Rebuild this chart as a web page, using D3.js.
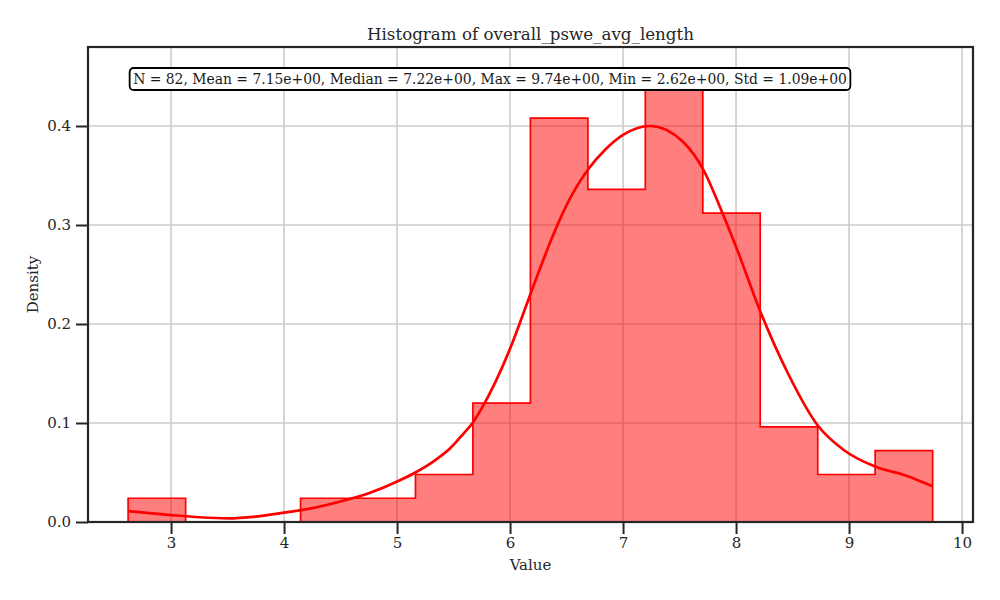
<!DOCTYPE html>
<html>
<head>
<meta charset="utf-8">
<script src="https://cdn.jsdelivr.net/npm/d3@7"></script>
<style>
  body { margin: 0; background: #fff; }
  svg text { font-family: "DejaVu Serif", serif; fill: #262626; }
</style>
</head>
<body>
<svg id="chart" width="1000" height="600"></svg>
<script>
"use strict";

// bin edges and density heights
const binEdges = [2.62, 3.129, 3.637, 4.146, 4.654, 5.163, 5.671, 6.18, 6.689, 7.197, 7.706, 8.214, 8.723, 9.231, 9.74];
const densities = [0.024, 0, 0, 0.024, 0.024, 0.048, 0.12, 0.408, 0.336, 0.456, 0.312, 0.096, 0.048, 0.072];

// kde curve
const kdeX = [2.62, 3.0, 3.25, 3.5, 3.75, 4.0, 4.25, 4.44, 4.75, 5.03, 5.17, 5.32, 5.47, 5.59, 5.67, 5.75, 6.0, 6.18, 6.35, 6.5, 6.69, 6.85, 7.0, 7.24, 7.53, 7.71, 7.88, 8.01, 8.21, 8.46, 8.72, 8.95, 9.23, 9.5, 9.74];
const kdeY = [0.011, 0.007, 0.0048, 0.0037, 0.0055, 0.0094, 0.014, 0.019, 0.029, 0.0424, 0.0505, 0.061, 0.0744, 0.0896, 0.1003, 0.115, 0.175, 0.23, 0.281, 0.32, 0.356, 0.377, 0.391, 0.4, 0.384, 0.356, 0.312, 0.275, 0.214, 0.15, 0.098, 0.073, 0.056, 0.047, 0.036];

const xTicks = [3, 4, 5, 6, 7, 8, 9, 10];
const yTicks = [0.0, 0.1, 0.2, 0.3, 0.4];

const titleText = "Histogram of overall_pswe_avg_length";
const statsText = "N = 82, Mean = 7.15e+00, Median = 7.22e+00, Max = 9.74e+00, Min = 2.62e+00, Std = 1.09e+00";

const margin = {left: 88, right: 27, top: 47, bottom: 78};
const width = 1000, height = 600;

const svg = d3.select("#chart");

const x = d3.scaleLinear().domain([2.265, 10.097]).range([margin.left, width - margin.right]);
const y = d3.scaleLinear().domain([0, 0.4798]).range([height - margin.bottom, margin.top]);

svg.append("clipPath").attr("id", "plotclip")
  .append("rect")
  .attr("x", margin.left).attr("y", margin.top)
  .attr("width", width - margin.left - margin.right)
  .attr("height", height - margin.top - margin.bottom);

// grid
const grid = svg.append("g");
grid.selectAll("line.gx").data(xTicks).join("line")
  .attr("x1", d => x(d)).attr("x2", d => x(d))
  .attr("y1", margin.top).attr("y2", height - margin.bottom)
  .style("stroke", "#cccccc").style("stroke-width", 1.6);
grid.selectAll("line.gy").data(yTicks).join("line")
  .attr("x1", margin.left).attr("x2", width - margin.right)
  .attr("y1", d => y(d)).attr("y2", d => y(d))
  .style("stroke", "#cccccc").style("stroke-width", 1.6);

// histogram as a step outline
const bins = densities.map((d, i) => ({x0: binEdges[i], x1: binEdges[i + 1], h: d}));
const stepPts = [[binEdges[0], 0]];
bins.forEach(b => { stepPts.push([b.x0, b.h]); stepPts.push([b.x1, b.h]); });
stepPts.push([binEdges[binEdges.length - 1], 0]);

const plot = svg.append("g").attr("clip-path", "url(#plotclip)");
const stepLine = d3.line().x(d => x(d[0])).y(d => y(d[1]));

plot.append("path")
  .datum(stepPts)
  .attr("d", d => stepLine(d) + "Z")
  .style("fill", "red").style("fill-opacity", 0.5).style("stroke", "none");

plot.append("path")
  .datum(stepPts)
  .attr("d", stepLine)
  .style("fill", "none").style("stroke", "red").style("stroke-width", 1.7);

plot.append("path")
  .datum(kdeX.map((v, i) => [v, kdeY[i]]))
  .attr("d", d3.line().curve(d3.curveMonotoneX).x(d => x(d[0])).y(d => y(d[1])))
  .style("fill", "none").style("stroke", "red").style("stroke-width", 2.7);

// axes
const xAxis = svg.append("g")
  .attr("transform", `translate(0,${height - margin.bottom})`)
  .call(d3.axisBottom(x).tickValues(xTicks).tickSize(12).tickPadding(3.5).tickFormat(d3.format("d")));
const yAxis = svg.append("g")
  .attr("transform", `translate(${margin.left},0)`)
  .call(d3.axisLeft(y).tickValues(yTicks).tickSize(12).tickPadding(5).tickFormat(d3.format(".1f")));
[xAxis, yAxis].forEach(a => {
  a.select(".domain").remove();
  a.selectAll(".tick line").style("stroke", "#262626").style("stroke-width", 2);
  a.selectAll(".tick text").style("font-size", "15px").style("font-family", "DejaVu Serif");
});

// spines
svg.append("rect")
  .attr("x", margin.left).attr("y", margin.top)
  .attr("width", width - margin.left - margin.right)
  .attr("height", height - margin.top - margin.bottom)
  .style("fill", "none").style("stroke", "#262626").style("stroke-width", 2.2);

// stats box
const statG = svg.append("g");
const statTxt = statG.append("text")
  .attr("x", 490).attr("y", 79)
  .attr("text-anchor", "middle").attr("dominant-baseline", "central")
  .style("font-size", "13.9px").style("fill", "#1a1a1a")
  .text(statsText);
const bb = statTxt.node().getBBox();
statG.insert("rect", "text")
  .attr("x", bb.x - 3.5).attr("y", 68)
  .attr("width", bb.width + 7).attr("height", 22)
  .attr("rx", 4)
  .style("fill", "white").style("stroke", "black").style("stroke-width", 1.8);

// labels
svg.append("text")
  .attr("x", (margin.left + width - margin.right) / 2).attr("y", 40)
  .attr("text-anchor", "middle")
  .style("font-size", "16.7px")
  .text(titleText);
svg.append("text")
  .attr("x", (margin.left + width - margin.right) / 2).attr("y", 570)
  .attr("text-anchor", "middle")
  .style("font-size", "15px")
  .text("Value");
svg.append("text")
  .attr("transform", `translate(38,${(margin.top + height - margin.bottom) / 2}) rotate(-90)`)
  .attr("text-anchor", "middle")
  .style("font-size", "15px")
  .text("Density");
</script>
</body>
</html>
